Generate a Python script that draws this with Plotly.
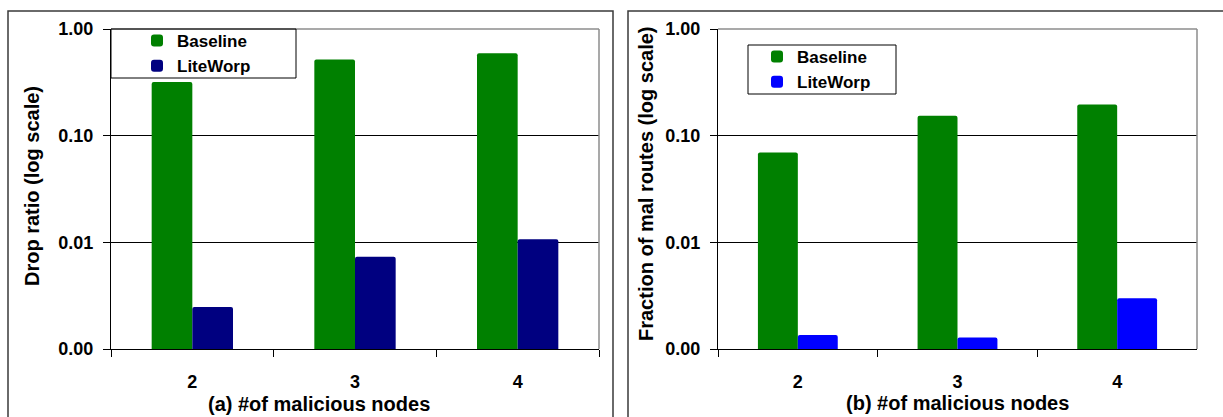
import plotly.graph_objects as go

W, H = 1223, 417

categories = ["2", "3", "4"]
baseline_drop = [0.318, 0.518, 0.593]
liteworp_drop = [0.00247, 0.00734, 0.0107]
baseline_mal = [0.0695, 0.1535, 0.196]
liteworp_mal = [0.00135, 0.00128, 0.00299]

y_tickvals = [0.001, 0.01, 0.1, 1.0]
y_ticktext = ["0.00", "0.01", "0.10", "1.00"]

title_a_y = "Drop ratio (log scale)"
title_b_y = "Fraction of mal routes (log scale)"
title_a_x = "(a) #of malicious nodes"
title_b_x = "(b) #of malicious nodes"
series_names = ["Baseline", "LiteWorp"]

FONT = "Liberation Sans, Arial, sans-serif"
GREEN = "#008000"
NAVY = "#000080"
BLUE = "#0000FF"

def px(x):
    return x / W

def py(y):
    return 1 - y / H

fig = go.Figure()
fig.add_trace(go.Bar(x=categories, y=baseline_drop, name=series_names[0],
                     marker=dict(color=GREEN, line=dict(width=0), cornerradius=2),
                     xaxis="x", yaxis="y", legend="legend"))
fig.add_trace(go.Bar(x=categories, y=liteworp_drop, name=series_names[1],
                     marker=dict(color=NAVY, line=dict(width=0), cornerradius=2),
                     xaxis="x", yaxis="y", legend="legend"))
fig.add_trace(go.Bar(x=categories, y=baseline_mal, name=series_names[0],
                     marker=dict(color=GREEN, line=dict(width=0), cornerradius=2),
                     xaxis="x2", yaxis="y2", legend="legend2"))
fig.add_trace(go.Bar(x=categories, y=liteworp_mal, name=series_names[1],
                     marker=dict(color=BLUE, line=dict(width=0), cornerradius=2),
                     xaxis="x2", yaxis="y2", legend="legend2"))

tickfont = dict(family=FONT, size=18, color="black", weight="bold")

def xaxis_cfg(domain, anchor):
    return dict(domain=domain, anchor=anchor, type="category",
                showline=True, linecolor="black", linewidth=1,
                ticks="outside", tickson="boundaries", ticklen=7, tickcolor="black",
                tickfont=tickfont, ticklabelstandoff=16, showgrid=False,
                zeroline=False, fixedrange=True, automargin=False)

def yaxis_cfg(domain, anchor, standoff):
    return dict(domain=domain, anchor=anchor, type="log", range=[-3, 0],
                tickvals=y_tickvals, ticktext=y_ticktext,
                showline=True, linecolor="black", linewidth=1,
                ticks="outside", ticklen=7, tickcolor="black",
                tickfont=tickfont, ticklabelstandoff=standoff,
                showgrid=True, gridcolor="black", gridwidth=1,
                zeroline=False, fixedrange=True, automargin=False)

ydom = [py(349), py(29)]

legend_font = dict(family=FONT, size=17, color="black", weight="bold")

fig.update_layout(
    width=W, height=H,
    margin=dict(l=0, r=0, t=0, b=0, pad=0, autoexpand=False),
    paper_bgcolor="white", plot_bgcolor="white",
    barmode="group", bargap=0.5, bargroupgap=0,
    showlegend=True,
    xaxis=xaxis_cfg([px(111), px(599)], "y"),
    yaxis=yaxis_cfg(ydom, "x", 6),
    xaxis2=xaxis_cfg([px(718), px(1197)], "y2"),
    yaxis2=yaxis_cfg(ydom, "x2", 6),
    legend=dict(x=px(137), y=py(23), xanchor="left", yanchor="top",
                bgcolor="rgba(0,0,0,0)", borderwidth=0, font=legend_font,
                tracegroupgap=0, itemclick=False, itemdoubleclick=False),
    legend2=dict(x=px(757), y=py(39), xanchor="left", yanchor="top",
                 bgcolor="rgba(0,0,0,0)", borderwidth=0, font=legend_font,
                 tracegroupgap=0, itemclick=False, itemdoubleclick=False),
)

title_font = dict(family=FONT, size=20, color="black", weight="bold")
annotations = [
    dict(text=title_a_y, x=px(32), y=py(186), textangle=-90),
    dict(text=title_b_y, x=px(646), y=py(184), textangle=-90),
    dict(text=title_a_x, x=px(319), y=py(404)),
    dict(text=title_b_x, x=px(957), y=py(403)),
]
for a in annotations:
    fig.add_annotation(xref="paper", yref="paper", showarrow=False,
                       xanchor="center", yanchor="middle", font=title_font, **a)

shapes = [
    # outer panel frames
    dict(type="rect", xref="paper", yref="paper", x0=px(8), x1=px(613), y0=-0.2, y1=py(11),
         line=dict(color="#3a3a3a", width=1.5), layer="below"),
    dict(type="rect", xref="paper", yref="paper", x0=px(628), x1=1.05, y0=-0.2, y1=py(11),
         line=dict(color="#3a3a3a", width=1.5), layer="below"),
    # plot frame top/right (gray)
    dict(type="line", xref="x domain", yref="y domain", x0=0, x1=1, y0=1, y1=1,
         line=dict(color="#8c8c8c", width=1.5), layer="above"),
    dict(type="line", xref="x domain", yref="y domain", x0=1, x1=1, y0=0, y1=1,
         line=dict(color="#8c8c8c", width=1.5), layer="above"),
    dict(type="line", xref="x2 domain", yref="y2 domain", x0=0, x1=1, y0=1, y1=1,
         line=dict(color="#8c8c8c", width=1.5), layer="above"),
    dict(type="line", xref="x2 domain", yref="y2 domain", x0=1, x1=1, y0=0, y1=1,
         line=dict(color="#8c8c8c", width=1.5), layer="above"),
    # legend boxes
    dict(type="rect", xref="paper", yref="paper", x0=px(111), x1=px(296), y0=py(78), y1=py(29),
         line=dict(color="black", width=1), layer="above"),
    dict(type="rect", xref="paper", yref="paper", x0=px(748), x1=px(896), y0=py(94), y1=py(45),
         line=dict(color="black", width=1), layer="above"),
]
for s in shapes:
    fig.add_shape(**s)

fig.write_html("out.html")
